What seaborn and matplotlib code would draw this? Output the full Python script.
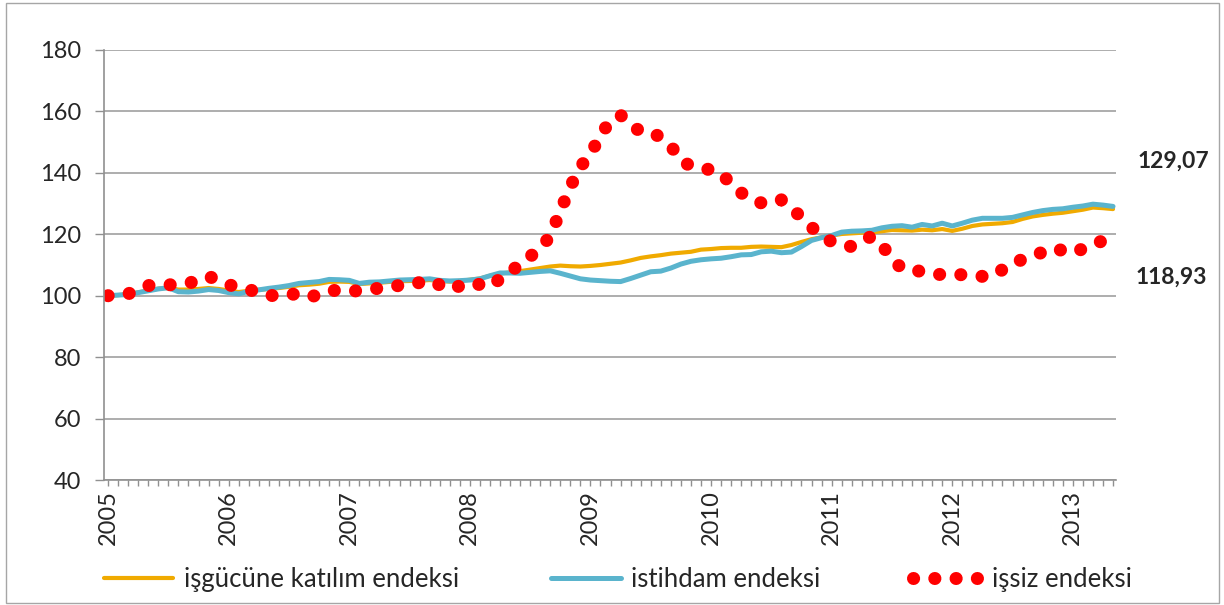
import numpy as np
import pandas as pd
import matplotlib.pyplot as plt
import seaborn as sns
from matplotlib.patches import Rectangle

# aylık veri: Ocak 2005 - Mayıs 2013
years = [2005, 2006, 2007, 2008, 2009, 2010, 2011, 2012, 2013]

isgucu = [100.0, 100.2, 100.5, 101.1, 101.7, 102.3, 102.6, 102.0, 102.0, 102.2,
          102.5, 102.2, 101.7, 101.2, 101.6, 101.9, 102.2, 102.5, 102.9, 103.4,
          103.6, 103.9, 104.5, 104.6, 104.5, 103.8, 104.0, 104.2, 104.5, 104.7,
          104.8, 104.9, 105.1, 104.8, 104.6, 104.8, 105.2, 105.6, 106.5, 107.2,
          107.6, 108.0, 108.5, 109.0, 109.5, 109.8, 109.6, 109.5, 109.7, 110.0,
          110.4, 110.8, 111.5, 112.3, 112.8, 113.2, 113.7, 114.0, 114.3, 115.0,
          115.2, 115.5, 115.6, 115.6, 115.9, 116.0, 115.9, 115.8, 116.5, 117.5,
          118.4, 119.0, 119.6, 120.1, 120.3, 120.5, 120.6, 121.0, 121.4, 121.3,
          121.2, 121.5, 121.3, 121.7, 121.1, 121.8, 122.7, 123.2, 123.4, 123.6,
          124.0, 125.0, 125.8, 126.3, 126.7, 127.0, 127.5, 128.0, 128.7, 128.5,
          128.2]

istihdam = [100.0, 100.2, 100.4, 101.0, 101.6, 102.2, 102.6, 101.3, 101.2, 101.5,
            102.0, 101.7, 101.0, 100.6, 101.4, 101.9, 102.4, 102.8, 103.3, 104.0,
            104.3, 104.6, 105.3, 105.2, 105.0, 104.0, 104.4, 104.5, 104.8, 105.1,
            105.2, 105.3, 105.5, 105.0, 104.8, 104.9, 105.1, 105.5, 106.5, 107.4,
            107.4, 107.3, 107.6, 107.9, 108.1, 107.3, 106.4, 105.5, 105.1, 104.9,
            104.7, 104.6, 105.6, 106.7, 107.8, 108.0, 109.0, 110.3, 111.2, 111.7,
            112.0, 112.2, 112.7, 113.3, 113.4, 114.3, 114.5, 114.0, 114.2, 116.0,
            118.0, 118.9, 119.6, 120.7, 121.0, 121.1, 121.3, 122.1, 122.6, 122.8,
            122.3, 123.2, 122.7, 123.6, 122.7, 123.6, 124.6, 125.2, 125.2, 125.2,
            125.5, 126.3, 127.1, 127.7, 128.1, 128.3, 128.8, 129.2, 129.8, 129.5,
            129.07]

issiz = [100.0, 100.3, 100.6, 102.0, 103.3, 103.6, 103.5, 103.8, 104.0, 105.2,
         106.3, 105.0, 103.6, 102.6, 102.0, 101.0, 100.0, 100.2, 100.7, 100.2,
         99.4, 100.5, 101.6, 101.8, 101.5, 101.6, 101.9, 102.5, 103.1, 103.3,
         103.5, 104.3, 105.0, 103.5, 102.0, 103.2, 104.3, 103.6, 102.9, 105.5,
         107.5, 110.5, 112.8, 115.2, 119.5, 127.5, 135.5, 142.0, 146.0, 152.3,
         157.0, 158.8, 155.5, 153.5, 153.4, 151.5, 148.8, 144.0, 142.2, 141.5,
         141.0, 139.8, 136.4, 133.5, 131.5, 130.2, 130.0, 131.2, 128.5, 125.5,
         122.3, 119.5, 117.6, 116.5, 116.0, 118.0, 119.3, 116.5, 112.0, 108.8,
         108.5, 107.8, 107.0, 106.9, 107.1, 106.8, 106.5, 106.3, 106.4, 108.5,
         110.6, 111.8, 112.9, 114.2, 115.5, 114.7, 113.9, 115.3, 116.7, 117.9,
         118.93]

labels = ['işgücüne katılım endeksi', 'istihdam endeksi', 'işsiz endeksi']
colors = ['#F0AA00', '#5AB4CD', '#FF0000']

df = pd.DataFrame({'ay': np.arange(len(isgucu)), labels[0]: isgucu,
                   labels[1]: istihdam, labels[2]: issiz})

sns.set_theme(style="white")
plt.rcParams['font.family'] = ['Lato', 'DejaVu Sans']

fig = plt.figure(figsize=(12.24, 6.05), dpi=100)
ax = fig.add_axes([0.085, 0.2066, 0.8268, 0.7108])

sns.lineplot(data=df, x='ay', y=labels[0], color=colors[0], linewidth=3.0,
             label=labels[0], ax=ax)
sns.lineplot(data=df, x='ay', y=labels[1], color=colors[1], linewidth=3.6,
             label=labels[1], ax=ax)
sns.lineplot(data=df, x='ay', y=labels[2], color=colors[2], linewidth=9.4,
             linestyle=(0, (0.01, 1.62)), dash_capstyle='round',
             label=labels[2], ax=ax)

ax.set_xlim(-0.4, 100.3)
ax.set_ylim(40, 180)
ax.set_yticks(range(40, 181, 20))
ax.yaxis.grid(True, color='#A0A0A0', linewidth=1.2)
ax.set_axisbelow(True)

year_pos = [(y - 2005) * 12 for y in years]
ax.set_xticks(year_pos)
ax.set_xticklabels([str(y) for y in years], rotation=90)
ax.set_xticks(np.arange(len(isgucu)), minor=True)
ax.tick_params(axis='x', which='both', direction='out', length=4.5, width=1,
               color='#909090', bottom=True, labelsize=17, pad=3)
ax.tick_params(axis='y', direction='out', length=6.5, width=1,
               color='#909090', left=True, labelsize=17, pad=10)

for s in ['top', 'right']:
    ax.spines[s].set_visible(False)
for s in ['left', 'bottom']:
    ax.spines[s].set_color('#909090')
    ax.spines[s].set_linewidth(1.2)
ax.set_xlabel('')
ax.set_ylabel('')

handles, labs = ax.get_legend_handles_labels()
ax.get_legend().remove()
fig.legend(handles, labs, loc='lower center', ncol=3, frameon=False,
           fontsize=18.5, handlelength=2.7, columnspacing=3.6,
           bbox_to_anchor=(0.505, -0.016), handletextpad=0.4)

# son değerler
fig.text(0.988, 0.733, f'{istihdam[-1]:.2f}'.replace('.', ','), ha='right',
         va='center', fontsize=16.5, fontweight='bold')
fig.text(0.986, 0.542, f'{issiz[-1]:.2f}'.replace('.', ','), ha='right',
         va='center', fontsize=16.5, fontweight='bold')

fig.patches.append(Rectangle((6 / 1224, 2 / 605), 1213 / 1224, 600 / 605,
                             transform=fig.transFigure, fill=False,
                             edgecolor='#A6A6A6', linewidth=1))

plt.savefig('out.png', dpi=100)
